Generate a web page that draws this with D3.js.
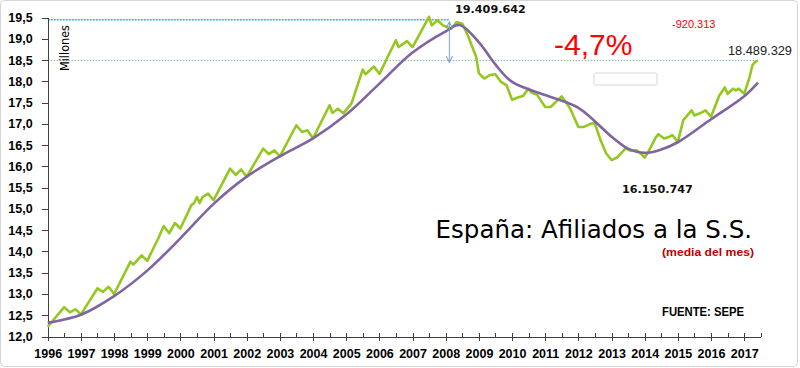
<!DOCTYPE html>
<html>
<head>
<meta charset="utf-8">
<script src="https://cdn.jsdelivr.net/npm/d3@7"></script>
<style>
  body { margin: 0; background: #fff; }
  svg { display: block; }
  .axis text { font-family: "Liberation Sans", Arial, sans-serif; font-weight: bold; font-size: 12.5px; fill: #000; }
  .axis path, .axis line { stroke: #404040; shape-rendering: crispEdges; }
</style>
</head>
<body>
<script>
// afiliados (media del mes), millones
const afiliadosMeses = [
  "1996-01","1996-07","1996-09","1996-11","1997-01","1997-07","1997-09","1997-11",
  "1998-01","1998-07","1998-08","1998-11","1999-01","1999-05","1999-07","1999-09","1999-11",
  "2000-01","2000-05","2000-06","2000-07","2000-08","2000-09","2000-11",
  "2001-01","2001-07","2001-09","2001-11","2002-01","2002-07","2002-09","2002-11",
  "2003-01","2003-07","2003-09","2003-11","2004-01","2004-07","2004-08","2004-10","2004-12",
  "2005-03","2005-07","2005-08","2005-11","2006-01","2006-07","2006-08","2006-11",
  "2007-01","2007-07","2007-08","2007-10","2007-12","2008-03","2008-05","2008-07","2008-09","2008-12",
  "2009-01","2009-03","2009-05","2009-07","2009-09","2009-11",
  "2010-01","2010-03","2010-05","2010-07","2010-08","2010-10",
  "2011-01","2011-03","2011-07","2011-08","2011-10",
  "2012-01","2012-03","2012-06","2012-07","2012-09","2012-11",
  "2013-01","2013-03","2013-06","2013-08","2013-10","2013-11",
  "2014-01","2014-02","2014-05","2014-06","2014-08","2014-10","2014-11",
  "2015-01","2015-03","2015-06","2015-07","2015-09","2015-11",
  "2016-01","2016-04","2016-06","2016-07","2016-09","2016-10","2016-11",
  "2017-01","2017-03","2017-04","2017-05","2017-06"
];
const afiliadosValores = [
  12.23,12.69,12.57,12.64,12.52,13.13,13.05,13.17,
  13.00,13.76,13.69,13.91,13.78,14.30,14.60,14.43,14.67,
  14.54,15.09,15.14,15.28,15.14,15.28,15.36,
  15.21,15.95,15.80,15.93,15.76,16.42,16.29,16.38,
  16.24,16.97,16.81,16.85,16.66,17.44,17.26,17.36,17.25,
  17.49,18.28,18.17,18.35,18.18,18.97,18.81,18.95,
  18.81,19.52,19.32,19.44,19.32,19.24,19.40,19.36,19.08,18.58,
  18.19,18.07,18.15,18.17,17.99,17.91,
  17.57,17.62,17.66,17.83,17.74,17.69,
  17.40,17.40,17.65,17.56,17.37,
  16.93,16.93,17.02,17.01,16.62,16.31,
  16.15,16.21,16.42,16.37,16.38,16.34,
  16.21,16.31,16.68,16.76,16.66,16.70,16.74,
  16.58,17.09,17.32,17.20,17.25,17.32,
  17.17,17.67,17.86,17.71,17.83,17.79,17.83,
  17.71,18.11,18.38,18.46,18.49
];

// tendencia (linea morada)
const tendenciaMeses = [
  "1996-01","1996-07","1997-01","1998-01","1999-01","2000-01","2001-01","2002-01",
  "2003-01","2004-01","2005-01","2006-01","2007-01","2008-01","2008-06","2009-01",
  "2009-07","2010-01","2011-01","2012-01","2013-01","2013-07","2014-01","2014-07",
  "2015-01","2016-01","2017-01","2017-06"
];
const tendenciaValores = [
  12.32,12.40,12.51,12.95,13.55,14.31,15.12,15.76,
  16.24,16.66,17.22,17.95,18.68,19.18,19.33,18.92,
  18.40,17.99,17.68,17.38,16.70,16.42,16.32,16.40,
  16.57,17.11,17.65,17.97
];

const anios = d3.range(1996, 2018);
const yTicks = [12, 12.5, 13, 13.5, 14, 14.5, 15, 15.5, 16, 16.5, 17, 17.5, 18, 18.5, 19, 19.5];

const MAXIMO_LINEA = 19.45;   // linea punteada azul
const ACTUAL_LINEA = 18.49;   // linea punteada verde
const MAXIMO_TXT = "19.409.642";
const MINIMO_TXT = "16.150.747";
const ACTUAL_TXT = "18.489.329";
const DIFERENCIA_TXT = "-920.313";
const PORCENTAJE_TXT = "-4,7%";

const WIDTH = 800, HEIGHT = 368;
const parse = d3.timeParse("%Y-%m");

const svg = d3.select("body").append("svg")
  .attr("width", WIDTH).attr("height", HEIGHT);

// marco
svg.append("rect")
  .attr("x", 0.5).attr("y", 0.5)
  .attr("width", WIDTH - 3).attr("height", HEIGHT - 2)
  .attr("rx", 4)
  .attr("fill", "#fff").attr("stroke", "#d4d4d4");

const x = d3.scaleTime()
  .domain([new Date(1996, 0, 1), new Date(2017, 6, 1)])
  .range([47.7, 760.7]);
const y = d3.scaleLinear()
  .domain([12, 19.5])
  .range([336.5, 17.7]);

const verde = afiliadosMeses.map((m, i) => ({ date: parse(m), value: afiliadosValores[i] }));
const morada = tendenciaMeses.map((m, i) => ({ date: parse(m), value: tendenciaValores[i] }));

// lineas punteadas de referencia
svg.append("line")
  .attr("x1", x.range()[0]).attr("x2", x(new Date(2008, 1, 10)))
  .attr("y1", y(MAXIMO_LINEA)).attr("y2", y(MAXIMO_LINEA))
  .attr("stroke", "#1fb8ef").attr("stroke-width", 1.5)
  .attr("stroke-dasharray", "2,1");
svg.append("line")
  .attr("x1", x.range()[0]).attr("x2", x(verde[verde.length - 1].date))
  .attr("y1", y(ACTUAL_LINEA)).attr("y2", y(ACTUAL_LINEA))
  .attr("stroke", "#7fb59a").attr("stroke-width", 1)
  .attr("stroke-dasharray", "1.5,1.5");

// ejes
const xAxis = svg.append("g")
  .attr("class", "axis")
  .attr("transform", "translate(0," + y(12) + ")")
  .call(d3.axisBottom(x)
    .tickValues(anios.map(a => new Date(a, 0, 1)))
    .tickFormat(d3.timeFormat("%Y"))
    .tickSize(4).tickSizeOuter(0));
xAxis.selectAll(".tick line").attr("y1", -4);
xAxis.selectAll(".tick text").attr("y", 21.5).attr("dy", 0);

const xMinor = svg.append("g")
  .attr("class", "axis")
  .attr("transform", "translate(0," + y(12) + ")")
  .call(d3.axisBottom(x)
    .tickValues(anios.map(a => new Date(a, 6, 1)))
    .tickFormat("")
    .tickSize(-4).tickSizeOuter(0));
xMinor.select(".domain").remove();

svg.append("g")
  .attr("class", "axis")
  .attr("transform", "translate(" + x.range()[0] + ",0)")
  .call(d3.axisLeft(y)
    .tickValues(yTicks)
    .tickFormat(d => d3.format(".1f")(d).replace(".", ","))
    .tickSize(6).tickSizeOuter(0).tickPadding(9));

// series
const line = d3.line().x(d => x(d.date)).y(d => y(d.value));

svg.append("path")
  .datum(verde)
  .attr("fill", "none")
  .attr("stroke", "#94c820")
  .attr("stroke-width", 2.6)
  .attr("stroke-linejoin", "round")
  .attr("d", line);

svg.append("path")
  .datum(morada)
  .attr("fill", "none")
  .attr("stroke", "#8064a2")
  .attr("stroke-width", 2.6)
  .attr("d", line.curve(d3.curveCatmullRom.alpha(0.5)));

// flecha doble
const defs = svg.append("defs");
defs.append("marker")
  .attr("id", "punta")
  .attr("viewBox", "0 0 10 10")
  .attr("refX", 9).attr("refY", 5)
  .attr("markerWidth", 8).attr("markerHeight", 8)
  .attr("markerUnits", "userSpaceOnUse")
  .attr("orient", "auto-start-reverse")
  .append("path")
  .attr("d", "M1,1 L9,5 L1,9")
  .attr("fill", "none")
  .attr("stroke", "#7ba3d0")
  .attr("stroke-width", 1.3);

const xFlecha = x(new Date(2008, 1, 10));
svg.append("line")
  .attr("x1", xFlecha).attr("x2", xFlecha)
  .attr("y1", y(19.40)).attr("y2", y(18.45))
  .attr("stroke", "#7ba3d0").attr("stroke-width", 1)
  .attr("marker-start", "url(#punta)")
  .attr("marker-end", "url(#punta)");

// caja vacia
svg.append("rect")
  .attr("x", 594).attr("y", 73)
  .attr("width", 63).attr("height", 12)
  .attr("rx", 1.5)
  .attr("fill", "#fff").attr("stroke", "#d6d6d6");

// textos
svg.append("text")
  .attr("x", 455).attr("y", 13)
  .style("font-family", "'DejaVu Sans', Verdana, sans-serif")
  .style("font-weight", "bold").style("font-size", "11.2px")
  .attr("fill", "#111")
  .text(MAXIMO_TXT);

svg.append("text")
  .attr("x", 622).attr("y", 193)
  .style("font-family", "'DejaVu Sans', Verdana, sans-serif")
  .style("font-weight", "bold").style("font-size", "11.2px")
  .attr("fill", "#111")
  .text(MINIMO_TXT);

svg.append("text")
  .attr("x", 792).attr("y", 55).attr("text-anchor", "end")
  .style("font-family", "'Liberation Sans', Arial, sans-serif")
  .style("font-size", "12.8px")
  .attr("fill", "#222")
  .text(ACTUAL_TXT);

svg.append("text")
  .attr("x", 672).attr("y", 28)
  .style("font-family", "'Liberation Sans', Arial, sans-serif")
  .style("font-size", "11px")
  .attr("fill", "#ff0000")
  .text(DIFERENCIA_TXT);

svg.append("text")
  .attr("x", 554).attr("y", 55)
  .style("font-family", "'Liberation Sans', Arial, sans-serif")
  .style("font-size", "30px")
  .attr("fill", "#ff0000")
  .text(PORCENTAJE_TXT);

svg.append("text")
  .attr("transform", "translate(68.5,48) rotate(-90)")
  .attr("text-anchor", "middle")
  .attr("textLength", 46).attr("lengthAdjust", "spacingAndGlyphs")
  .style("font-family", "'DejaVu Sans', Verdana, sans-serif")
  .style("font-size", "12.5px")
  .attr("fill", "#000")
  .text("Millones");

svg.append("text")
  .attr("x", 752).attr("y", 238).attr("text-anchor", "end")
  .style("font-family", "'DejaVu Sans', Verdana, sans-serif")
  .style("font-size", "24.5px")
  .attr("fill", "#000")
  .text("España: Afiliados a la S.S.");

svg.append("text")
  .attr("x", 662).attr("y", 256)
  .attr("textLength", 92).attr("lengthAdjust", "spacingAndGlyphs")
  .style("font-family", "'Liberation Sans', Arial, sans-serif")
  .style("font-weight", "bold").style("font-size", "11.5px")
  .attr("fill", "#c00000")
  .text("(media del mes)");

svg.append("text")
  .attr("x", 662).attr("y", 316)
  .attr("textLength", 82).attr("lengthAdjust", "spacingAndGlyphs")
  .style("font-family", "'Liberation Sans', Arial, sans-serif")
  .style("font-weight", "bold").style("font-size", "12.5px")
  .attr("fill", "#000")
  .text("FUENTE: SEPE");
</script>
</body>
</html>
